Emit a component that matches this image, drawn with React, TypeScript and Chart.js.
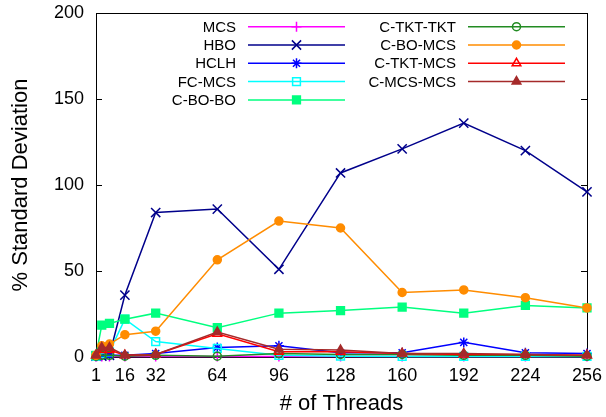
import React, { useEffect, useRef } from "react";
import { Chart, registerables } from "chart.js";
import { drawPoint } from "chart.js/helpers";

Chart.register(...registerables);

// ---- data ----
const threads = [1, 4, 8, 16, 32, 64, 96, 128, 160, 192, 224, 256];
const xTickValues = [1, 16, 32, 64, 96, 128, 160, 192, 224, 256];
const yTickValues = [0, 50, 100, 150, 200];

const mcs = [0.3, 0.3, 0.3, 0.3, 0.3, 0.3, 0.3, 0.3, 0.3, 0.3, 0.3, 0.3];
const hbo = [0.5, 0.5, 1, 36, 84, 86, 51, 107, 121, 136, 120, 96];
const hclh = [0.5, 1, 1, 1, 2, 5.5, 6.5, 2.5, 2.5, 8.5, 2.5, 2];
const fcMcs = [0.5, 2, 3, 22, 9, 5, 1, 0.5, 0.3, 0.3, 0.3, 0.3];
const cBoBo = [1, 18.5, 19.5, 22, 25.5, 17, 25.5, 27, 29, 25.5, 30, 28.5];
const cTktTkt = [0.5, 1, 1, 0.5, 1, 0.5, 2, 1.5, 1.5, 1, 1, 0.5];
const cBoMcs = [1, 6.5, 7.5, 13, 15, 56.5, 79, 75, 37.5, 39, 34.5, 28.5];
const cTktMcs = [1, 4, 4, 1, 1.5, 13.5, 3, 3, 2, 1.5, 1.5, 1];
const cMcsMcs = [1, 5.5, 5.5, 1, 1.5, 14.5, 4.5, 4, 2, 2, 1.5, 1];

const seriesLabels = ["MCS", "HBO", "HCLH", "FC-MCS", "C-BO-BO", "C-TKT-TKT", "C-BO-MCS", "C-TKT-MCS", "C-MCS-MCS"];
const seriesValues = [mcs, hbo, hclh, fcMcs, cBoBo, cTktTkt, cBoMcs, cTktMcs, cMcsMcs];
const seriesColors = ["#ff00ff", "#00008b", "#0000ff", "#00ffff", "#00ff7f", "#228b22", "#ff8c00", "#ff0000", "#a52a2a"];
const seriesMarkers = ["cross", "crossRot", "star", "rect", "rect", "circle", "circle", "triangle", "triangle"];
const seriesFilled = [true, true, true, false, true, false, true, false, true];
const seriesRadius = [5, 6.5, 5, 5.5, 5.5, 4, 4, 5, 5];

const FONT = "'Liberation Sans', Arial, Helvetica, sans-serif";

const framePlugin = {
  id: "frame",
  beforeDatasetsDraw(chart: any) {
    const { ctx, chartArea: a, scales } = chart;
    ctx.save();
    ctx.strokeStyle = "#000";
    ctx.lineWidth = 1;
    ctx.strokeRect(Math.round(a.left) + 0.5, Math.round(a.top) + 0.5, Math.round(a.right - a.left), Math.round(a.bottom - a.top));
    const t = 6;
    ctx.beginPath();
    for (const v of yTickValues) {
      const y = Math.round(scales.y.getPixelForValue(v)) + 0.5;
      ctx.moveTo(a.left, y);
      ctx.lineTo(a.left + t, y);
      ctx.moveTo(a.right, y);
      ctx.lineTo(a.right - t, y);
    }
    for (const v of xTickValues) {
      const x = Math.round(scales.x.getPixelForValue(v)) + 0.5;
      ctx.moveTo(x, a.bottom);
      ctx.lineTo(x, a.bottom - t);
    }
    ctx.stroke();
    ctx.restore();
  },
};

const keyPlugin = {
  id: "gnukey",
  afterDatasetsDraw(chart: any) {
    const { ctx, chartArea: a } = chart;
    ctx.save();
    ctx.font = `15px ${FONT}`;
    ctx.textAlign = "right";
    ctx.textBaseline = "middle";
    seriesLabels.forEach((label, i) => {
      const col = i < 5 ? 0 : 1;
      const row = i < 5 ? i : i - 5;
      const colOff = col * 220;
      const y = a.top + 13.7 + row * 18.3;
      const textRight = a.left + 140 + colOff;
      const lineStart = a.left + 152 + colOff;
      const lineEnd = a.left + 249 + colOff;
      ctx.fillStyle = "#000";
      ctx.fillText(label, textRight, y + 1);
      ctx.strokeStyle = seriesColors[i];
      ctx.lineWidth = 1.5;
      ctx.beginPath();
      ctx.moveTo(lineStart, y);
      ctx.lineTo(lineEnd, y);
      ctx.stroke();
      ctx.fillStyle = seriesFilled[i] ? seriesColors[i] : "rgba(0,0,0,0)";
      drawPoint(ctx, { pointStyle: seriesMarkers[i], radius: seriesRadius[i], rotation: 0, borderWidth: 1.5 } as any, (lineStart + lineEnd) / 2, y);
    });
    ctx.restore();
  },
};

export default function App() {
  const ref = useRef<HTMLCanvasElement | null>(null);
  useEffect(() => {
    if (!ref.current) return;
    const n = seriesLabels.length;
    const chart = new Chart(ref.current, {
      type: "line",
      data: {
        datasets: seriesLabels.map((label, i) => ({
          label,
          data: threads.map((t, j) => ({ x: t, y: seriesValues[i][j] })),
          borderColor: seriesColors[i],
          backgroundColor: seriesFilled[i] ? seriesColors[i] : "rgba(0,0,0,0)",
          pointBackgroundColor: seriesFilled[i] ? seriesColors[i] : "rgba(0,0,0,0)",
          pointBorderColor: seriesColors[i],
          pointStyle: seriesMarkers[i] as any,
          pointRadius: seriesRadius[i],
          pointBorderWidth: 1.5,
          borderWidth: 1.5,
          tension: 0,
          fill: false,
          clip: false as any,
          order: n - i,
        })),
      },
      options: {
        animation: false,
        responsive: false,
        devicePixelRatio: 1,
        layout: { padding: { left: 0, right: 19, top: 13, bottom: 0 } },
        plugins: { legend: { display: false }, tooltip: { enabled: false } },
        scales: {
          x: {
            type: "linear",
            min: 1,
            max: 256,
            afterBuildTicks: (s: any) => {
              s.ticks = xTickValues.map((v) => ({ value: v }));
            },
            afterFit: (s: any) => {
              s.height = 60;
            },
            grid: { display: false, drawTicks: true, tickLength: 8 },
            border: { display: false },
            ticks: {
              padding: 0,
              autoSkip: false,
              maxRotation: 0,
              color: "#000",
              font: { family: FONT, size: 18 },
              callback: (v: any) => String(v),
            },
            title: {
              display: true,
              text: "# of Threads",
              color: "#000",
              font: { family: FONT, size: 22 },
              padding: { top: 0, bottom: 0 },
            },
          },
          y: {
            min: 0,
            max: 200,
            afterBuildTicks: (s: any) => {
              s.ticks = yTickValues.map((v) => ({ value: v }));
            },
            afterFit: (s: any) => {
              s.width = 96;
            },
            grid: { display: false, drawTicks: true, tickLength: 12 },
            border: { display: false },
            ticks: {
              padding: 0,
              color: "#000",
              font: { family: FONT, size: 18 },
              callback: (v: any) => String(v),
            },
            title: {
              display: true,
              text: "% Standard Deviation",
              color: "#000",
              font: { family: FONT, size: 22 },
              padding: { top: 8, bottom: 0 },
            },
          },
        },
      },
      plugins: [framePlugin, keyPlugin],
    });
    return () => chart.destroy();
  }, []);
  return (
    <div style={{ position: "absolute", left: 0, top: 0, width: 606, height: 417, background: "#fff" }}>
      <canvas ref={ref} width={606} height={417} style={{ width: 606, height: 417, display: "block" }} />
    </div>
  );
}
